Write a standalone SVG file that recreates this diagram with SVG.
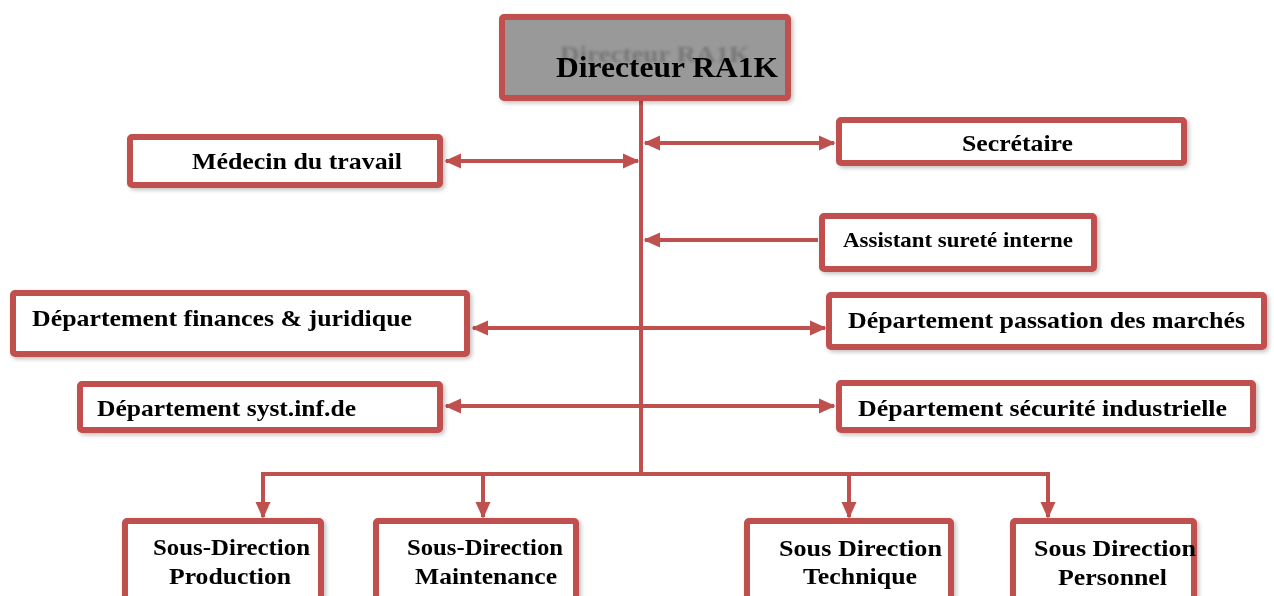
<svg xmlns="http://www.w3.org/2000/svg" width="1274" height="596" viewBox="0 0 1274 596">
  <defs>
    <style>
      .box { fill: #ffffff; stroke: #C0504D; stroke-width: 6; }
      .head { fill: #999999; stroke: #C0504D; stroke-width: 6; }
      .lbl { font-family: "Liberation Serif", "Times New Roman", serif; font-weight: bold; font-size: 24px; fill: #000000; }
      .sm { font-size: 21px; }
      .link { fill: none; stroke: #C0504D; stroke-width: 4; }
    </style>
    <marker id="ah" viewBox="0 0 10 10" refX="9" refY="5" markerWidth="4.2" markerHeight="4.2" orient="auto-start-reverse" markerUnits="strokeWidth">
      <path d="M0,0.5 L10,5 L0,9.5 Z" fill="#C0504D"/>
    </marker>
    <filter id="sh" x="-10%" y="-10%" width="130%" height="140%">
      <feGaussianBlur in="SourceAlpha" stdDeviation="2"/>
      <feOffset dx="2" dy="2" result="b"/>
      <feComponentTransfer><feFuncA type="linear" slope="0.25"/></feComponentTransfer>
      <feMerge><feMergeNode/><feMergeNode in="SourceGraphic"/></feMerge>
    </filter>
    <filter id="soft"><feGaussianBlur stdDeviation="1.8"/></filter>
  </defs>
  <rect width="1274" height="596" fill="#ffffff"/>

  <!-- connectors: trunk, side links and the bottom distribution bar -->
  <g id="connectors">
    <line class="link" x1="641" y1="101" x2="641" y2="474"/>
    <line class="link" x1="446" y1="161" x2="638" y2="161" marker-start="url(#ah)" marker-end="url(#ah)"/>
    <line class="link" x1="645" y1="143" x2="834" y2="143" marker-start="url(#ah)" marker-end="url(#ah)"/>
    <line class="link" x1="818" y1="240" x2="645" y2="240" marker-end="url(#ah)"/>
    <line class="link" x1="473" y1="328" x2="825" y2="328" marker-start="url(#ah)" marker-end="url(#ah)"/>
    <line class="link" x1="446" y1="406" x2="834" y2="406" marker-start="url(#ah)" marker-end="url(#ah)"/>
    <polyline class="link" points="263,517 263,474 1048,474 1048,517" marker-start="url(#ah)" marker-end="url(#ah)"/>
    <line class="link" x1="483" y1="474" x2="483" y2="517" marker-end="url(#ah)"/>
    <line class="link" x1="849" y1="474" x2="849" y2="517" marker-end="url(#ah)"/>
  </g>

  <g id="n-directeur" filter="url(#sh)">
    <rect class="head" x="502" y="17" width="286" height="81" rx="2"/>
    <!-- faint blurred echo of the title behind it -->
    <text class="lbl" x="560" y="62" font-size="26" fill="#555" opacity="0.22" filter="url(#soft)" textLength="190" lengthAdjust="spacingAndGlyphs">Directeur RA1K</text>
    <text class="lbl" x="556" y="77" style="font-size:29px" textLength="222" lengthAdjust="spacingAndGlyphs">Directeur RA1K</text>
  </g>

  <g id="n-medecin" filter="url(#sh)">
    <rect class="box" x="130" y="137" width="310" height="48" rx="2"/>
    <text class="lbl" x="192" y="169" textLength="210" lengthAdjust="spacingAndGlyphs">Médecin du travail</text>
  </g>

  <g id="n-secretaire" filter="url(#sh)">
    <rect class="box" x="839" y="120" width="345" height="43" rx="2"/>
    <text class="lbl" x="962" y="151" textLength="111" lengthAdjust="spacingAndGlyphs">Secrétaire</text>
  </g>

  <g id="n-assistant" filter="url(#sh)">
    <rect class="box" x="822" y="216" width="272" height="53" rx="2"/>
    <text class="lbl sm" x="843" y="247" textLength="230" lengthAdjust="spacingAndGlyphs">Assistant sureté interne</text>
  </g>

  <g id="n-finances" filter="url(#sh)">
    <rect class="box" x="13" y="293" width="454" height="61" rx="2"/>
    <text class="lbl" x="32" y="326" textLength="380" lengthAdjust="spacingAndGlyphs">Département finances &amp; juridique</text>
  </g>

  <g id="n-passation" filter="url(#sh)">
    <rect class="box" x="829" y="295" width="435" height="52" rx="2"/>
    <text class="lbl" x="848" y="328" textLength="397" lengthAdjust="spacingAndGlyphs">Département passation des marchés</text>
  </g>

  <g id="n-syst" filter="url(#sh)">
    <rect class="box" x="80" y="384" width="360" height="46" rx="2"/>
    <text class="lbl" x="97" y="416" textLength="259" lengthAdjust="spacingAndGlyphs">Département syst.inf.de</text>
  </g>

  <g id="n-securite" filter="url(#sh)">
    <rect class="box" x="839" y="383" width="414" height="47" rx="2"/>
    <text class="lbl" x="858" y="416" textLength="369" lengthAdjust="spacingAndGlyphs">Département sécurité industrielle</text>
  </g>

  <g id="n-production" filter="url(#sh)">
    <rect class="box" x="125" y="521" width="196" height="90" rx="2"/>
    <text class="lbl" x="153" y="555" textLength="157" lengthAdjust="spacingAndGlyphs">Sous-Direction</text>
    <text class="lbl" x="169" y="584" textLength="122" lengthAdjust="spacingAndGlyphs">Production</text>
  </g>

  <g id="n-maintenance" filter="url(#sh)">
    <rect class="box" x="376" y="521" width="200" height="90" rx="2"/>
    <text class="lbl" x="407" y="555" textLength="156" lengthAdjust="spacingAndGlyphs">Sous-Direction</text>
    <text class="lbl" x="415" y="584" textLength="142" lengthAdjust="spacingAndGlyphs">Maintenance</text>
  </g>

  <g id="n-technique" filter="url(#sh)">
    <rect class="box" x="747" y="521" width="204" height="90" rx="2"/>
    <text class="lbl" x="779" y="556" textLength="163" lengthAdjust="spacingAndGlyphs">Sous Direction</text>
    <text class="lbl" x="803" y="584" textLength="114" lengthAdjust="spacingAndGlyphs">Technique</text>
  </g>

  <g id="n-personnel" filter="url(#sh)">
    <rect class="box" x="1013" y="521" width="181" height="90" rx="2"/>
    <text class="lbl" x="1034" y="556" textLength="162" lengthAdjust="spacingAndGlyphs">Sous Direction</text>
    <text class="lbl" x="1058" y="585" textLength="109" lengthAdjust="spacingAndGlyphs">Personnel</text>
  </g>
</svg>
